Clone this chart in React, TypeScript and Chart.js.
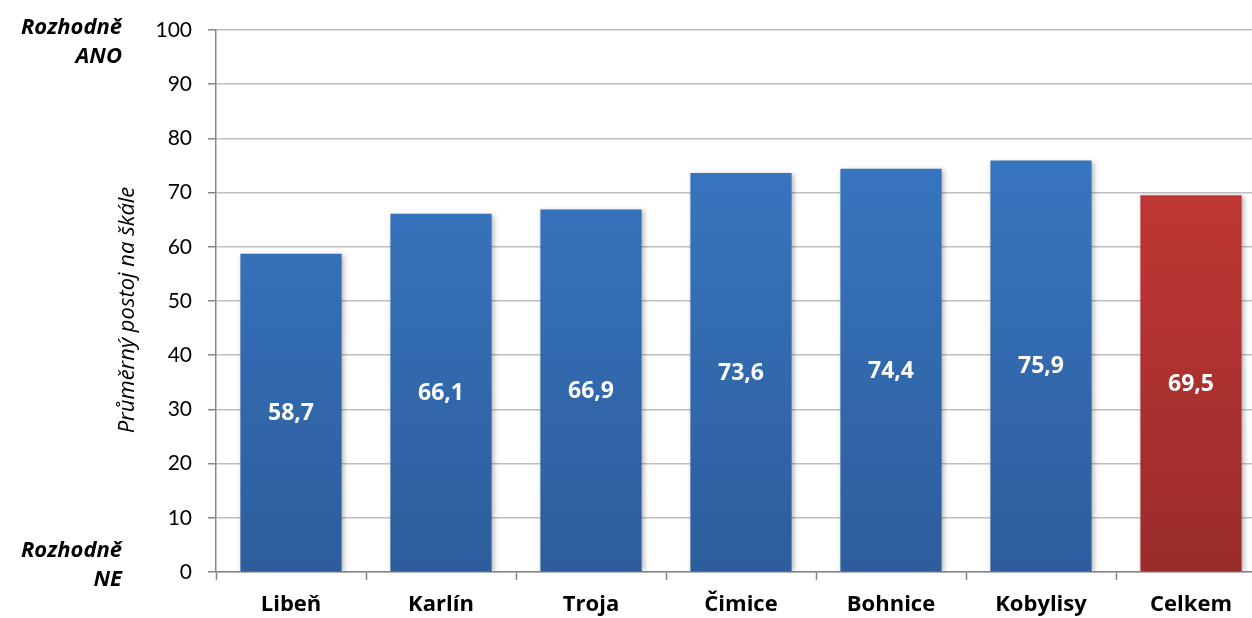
import React, { useEffect, useRef } from "react";
import { Chart, registerables } from "chart.js";

Chart.register(...registerables);

const categories = ["Libeň", "Karlín", "Troja", "Čimice", "Bohnice", "Kobylisy", "Celkem"];
const values = [58.7, 66.1, 66.9, 73.6, 74.4, 75.9, 69.5];
const isTotal = [false, false, false, false, false, false, true];
const yTicks = [0, 10, 20, 30, 40, 50, 60, 70, 80, 90, 100];
const topLabel = ["Rozhodně", "ANO"];
const bottomLabel = ["Rozhodně", "NE"];
const yTitle = "Průměrný postoj na škále";

const FONT = "Lato, 'Open Sans', sans-serif";
const BFONT = "'Open Sans', Lato, sans-serif";

export default function App() {
  const ref = useRef<HTMLCanvasElement | null>(null);

  useEffect(() => {
    const canvas = ref.current!;
    const barFill = (ctx: any) => {
      const chart = ctx.chart;
      const area = chart.chartArea;
      const total = isTotal[ctx.dataIndex];
      if (!area) return total ? "#C93A37" : "#3A7BC8";
      const g = chart.ctx.createLinearGradient(0, area.top, 0, area.bottom);
      if (total) {
        g.addColorStop(0, "#CE3B38");
        g.addColorStop(1, "#9A2C2A");
      } else {
        g.addColorStop(0, "#3B7DCA");
        g.addColorStop(1, "#2D5D9C");
      }
      return g;
    };

    const shadowPlugin = {
      id: "shadow",
      beforeDatasetsDraw(chart: any) {
        const c = chart.ctx;
        c.save();
        c.shadowColor = "rgba(0,0,0,0.28)";
        c.shadowBlur = 5;
        c.shadowOffsetX = 2;
        c.shadowOffsetY = 1;
      },
      afterDatasetsDraw(chart: any) {
        chart.ctx.restore();
        const c = chart.ctx;
        const meta = chart.getDatasetMeta(0);
        c.save();
        c.fillStyle = "#FFFFFF";
        c.font = `bold 23px ${BFONT}`;
        c.textAlign = "center";
        c.textBaseline = "middle";
        meta.data.forEach((el: any, i: number) => {
          const y = (el.y + el.base) / 2 + 1;
          c.fillText(values[i].toFixed(1).replace(".", ","), el.x, y);
        });
        c.restore();
      },
    };

    const sidePlugin = {
      id: "side",
      afterDraw(chart: any) {
        const c = chart.ctx;
        const ys = chart.scales.y;
        const y100 = ys.getPixelForValue(100);
        const y0 = ys.getPixelForValue(0);
        c.save();
        c.fillStyle = "#000000";
        c.font = `italic bold 22px ${BFONT}`;
        c.textAlign = "right";
        c.textBaseline = "middle";
        c.fillText(topLabel[0], 122, y100 - 2);
        c.fillText(topLabel[1], 122, y100 + 27);
        c.fillText(bottomLabel[0], 122, y0 - 21);
        c.fillText(bottomLabel[1], 122, y0 + 8);
        c.font = `italic 22px ${BFONT}`;
        c.textAlign = "center";
        c.translate(128, (y100 + y0) / 2 + 9);
        c.rotate(-Math.PI / 2);
        c.fillText(yTitle, 0, 0);
        c.restore();
      },
    };

    const chart = new Chart(canvas, {
      type: "bar",
      data: {
        labels: categories,
        datasets: [
          {
            data: values,
            backgroundColor: barFill,
            borderWidth: 0,
            categoryPercentage: 1,
            barPercentage: 0.675,
          },
        ],
      },
      options: {
        responsive: false,
        animation: false,
        layout: { padding: { top: 30, left: 0, right: 0, bottom: 0 } },
        plugins: {
          legend: { display: false },
          tooltip: { enabled: false },
        },
        scales: {
          x: {
            afterFit(scale: any) {
              scale.height = 46;
            },
            grid: {
              display: true,
              drawOnChartArea: false,
              drawTicks: true,
              tickLength: 8,
              tickColor: "#868686",
              tickWidth: 1.5,
            },
            border: { display: true, color: "#868686", width: 1.5 },
            ticks: {
              color: "#000000",
              padding: 12,
              font: { family: BFONT, size: 22, weight: "bold" },
            },
          },
          y: {
            min: 0,
            max: 100,
            afterFit(scale: any) {
              scale.width = 216;
            },
            afterBuildTicks(scale: any) {
              scale.ticks = yTicks.map((v) => ({ value: v }));
            },
            grid: {
              color: "#BFBFBF",
              lineWidth: 1.5,
              borderDash: [8, 5],
              drawTicks: true,
              tickLength: 8,
              tickColor: "#868686",
              tickWidth: 1.5,
              tickBorderDash: [],
            },
            border: { display: true, color: "#868686", width: 1.5 },
            ticks: {
              color: "#000000",
              padding: 16,
              font: { family: FONT, size: 21 },
            },
          },
        },
      },
      plugins: [shadowPlugin, sidePlugin],
    } as any);
    return () => chart.destroy();
  }, []);

  return (
    <div
      style={{
        position: "absolute",
        left: 0,
        top: 0,
        width: 1252,
        height: 618,
        overflow: "hidden",
        background: "#FFFFFF",
      }}
    >
      <canvas ref={ref} width={1266} height={618} style={{ display: "block" }} />
    </div>
  );
}
